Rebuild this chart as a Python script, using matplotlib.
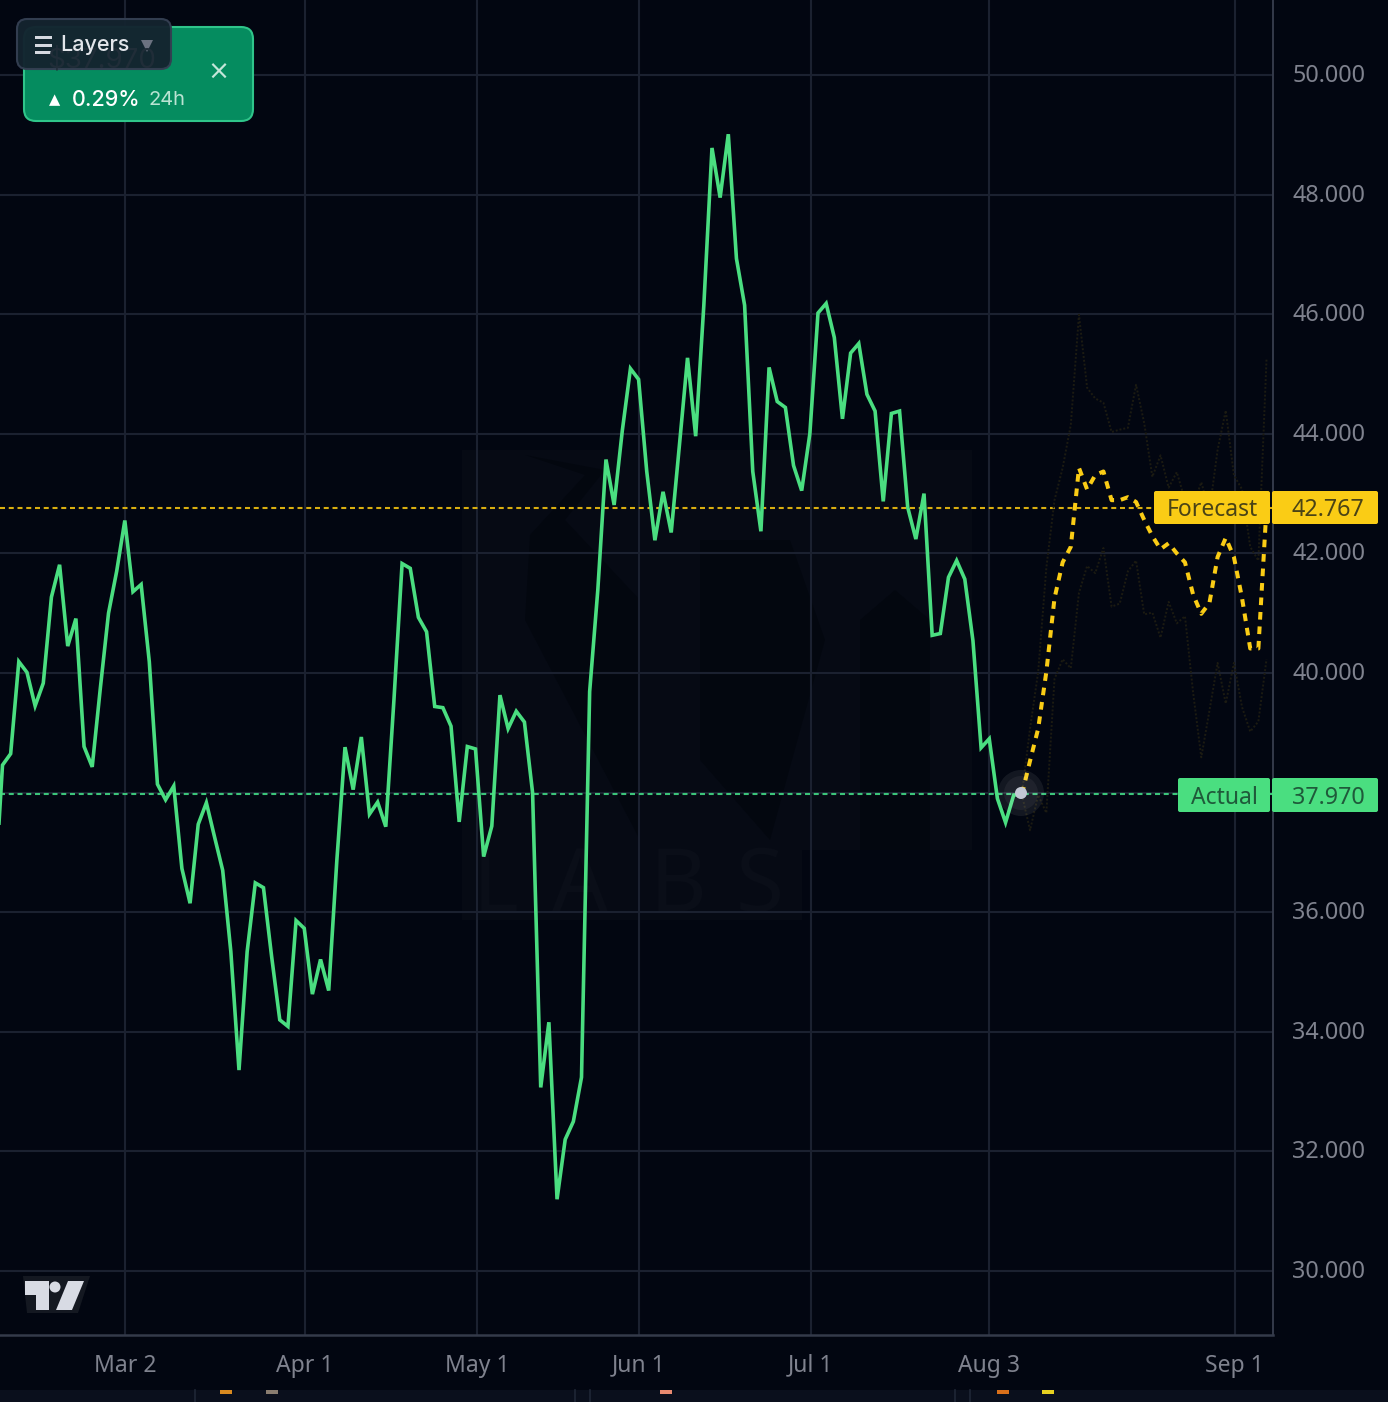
import matplotlib
matplotlib.use("Agg")
import matplotlib.pyplot as plt
from matplotlib.patches import FancyBboxPatch, Rectangle, Circle, Polygon
from matplotlib.transforms import ScaledTranslation

plt.rcParams['font.family'] = ['Noto Sans', 'DejaVu Sans']

# ---------- data ----------
actual_values = [36.2, 38.46, 38.65, 40.19, 40.01, 39.45, 39.83, 41.27, 41.81, 40.45, 40.91,
                 38.77, 38.43, 39.75, 41.0, 41.7, 42.55, 41.36, 41.48, 40.19, 38.14, 37.88,
                 38.11, 36.73, 36.15, 37.47, 37.83, 37.26, 36.70, 35.34, 33.36, 35.34, 36.49,
                 36.41, 35.26, 34.20, 34.09, 35.86, 35.73, 34.63, 35.21, 34.69, 36.87, 38.76,
                 38.05, 38.93, 37.64, 37.84, 37.43, 39.55, 41.83, 41.75, 40.93, 40.69, 39.44,
                 39.42, 39.11, 37.51, 38.77, 38.73, 36.93, 37.44, 39.63, 39.07, 39.36, 39.18,
                 38.0, 33.07, 34.16, 31.2, 32.2, 32.5, 33.24, 39.69, 41.39, 43.57, 42.81,
                 44.05, 45.09, 44.91, 43.37, 42.22, 43.03, 42.35, 43.80, 45.27, 43.96, 46.15,
                 48.78, 47.95, 49.01, 46.93, 46.15, 43.37, 42.37, 45.11, 44.54, 44.44, 43.47,
                 43.05, 44.0, 46.02, 46.18, 45.61, 44.25, 45.35, 45.51, 44.66, 44.38, 42.87,
                 44.34, 44.38, 42.77, 42.24, 43.0, 40.63, 40.66, 41.6, 41.88, 41.57, 40.54,
                 38.75, 38.90, 37.9, 37.5, 37.96, 37.97]
forecast_values = [37.97, 38.53, 39.07, 40.02, 41.25, 41.85, 42.11, 43.43, 43.07, 43.31, 43.37,
                   42.89, 42.89, 42.94, 42.86, 42.56, 42.29, 42.07, 42.17, 42.0, 41.85, 41.31,
                   40.99, 41.17, 41.94, 42.26, 41.94, 41.25, 40.41, 40.41, 42.767]
upper_values = [37.97, 39.07, 40.02, 41.76, 42.89, 43.43, 44.15, 45.99, 44.77, 44.59, 44.52,
                44.03, 44.07, 44.10, 44.82, 44.18, 43.28, 43.64, 43.10, 43.36, 42.89, 42.80,
                43.19, 42.71, 43.73, 44.39, 43.31, 43.07, 42.11, 41.88, 45.25]
lower_values = [37.97, 37.37, 37.96, 37.66, 39.9, 40.23, 40.08, 41.34, 41.79, 41.67, 42.09,
                41.11, 41.16, 41.7, 41.88, 40.98, 41.01, 40.59, 41.19, 40.83, 40.95, 39.67,
                38.59, 39.37, 40.17, 39.49, 40.17, 39.43, 39.02, 39.19, 40.23]
actual_last = 37.970
forecast_last = 42.767
price_ticks = [30, 32, 34, 36, 38, 40, 42, 44, 46, 48, 50]
price_labels = ['30.000', '32.000', '34.000', '36.000', '', '40.000', '42.000', '44.000',
                '46.000', '48.000', '50.000']
date_ticks = [15.02, 37.09, 58.18, 78.05, 99.14, 120.97, 151.1]
date_labels = ['Mar 2', 'Apr 1', 'May 1', 'Jun 1', 'Jul 1', 'Aug 3', 'Sep 1']

# ---------- style ----------
BG = '#020611'
GRID = '#1b2130'
SPINE = '#343a4a'
TXT = '#7f828e'
GREEN = '#4ade80'
GOLD = '#facc15'
W, H = 1388, 1402

fig = plt.figure(figsize=(W / 100, H / 100), dpi=100, facecolor=BG)
ax = fig.add_axes([0, (H - 1335) / H, 1273 / W, 1335 / H], facecolor='none', zorder=2)
bg = fig.add_axes([0, 0, 1, 1], facecolor='none', zorder=1)
top = fig.add_axes([0, 0, 1, 1], facecolor='none', zorder=3)
for a in (bg, top):
    a.set_xlim(0, W)
    a.set_ylim(H, 0)
    a.axis('off')

# ---------- watermark (very faint) ----------
WM = '#060a14'
WM2 = '#03070f'
bg.add_patch(Rectangle((462, 450), 510, 400, fc=WM, ec='none'))
bg.add_patch(Rectangle((462, 850), 340, 70, fc=WM, ec='none'))
for pts in ([[525, 455], [585, 475], [530, 535], [525, 620], [640, 840], [640, 600], [565, 520], [605, 470]],
            [[700, 540], [700, 760], [770, 840], [825, 640], [790, 540]],
            [[860, 620], [860, 850], [930, 850], [930, 620], [895, 590]]):
    bg.add_patch(Polygon(pts, fc=WM2, ec='none'))
for letter, lx in (('L', 495), ('A', 580), ('B', 678), ('S', 760)):
    bg.text(lx, 888, letter, color='#0a0e18', fontsize=63, ha='center', va='center')

# ---------- main chart ----------
xa = [i - 1 for i in range(len(actual_values))]
x0 = xa[-1]
xf = [x0 + i for i in range(len(forecast_values))]

ax.set_xlim(-2.5 / 8.155, (1273 - 2.5) / 8.155)
ax.set_ylim(50 - 1260 / 59.8, 50 + 75 / 59.8)
ax.set_yticks(price_ticks)
ax.set_yticklabels(price_labels)
ax.set_xticks(date_ticks)
ax.set_xticklabels(date_labels)
ax.yaxis.tick_right()
ax.tick_params(axis='y', length=0, pad=14, labelsize=16.8, labelcolor=TXT)
ax.tick_params(axis='x', length=0, pad=13.5, labelsize=16.5, labelcolor=TXT)
up = ScaledTranslation(0, 2 / 100, fig.dpi_scale_trans)
for lab in ax.get_yticklabels():
    lab.set_transform(lab.get_transform() + up)
for lab in ax.get_xticklabels():
    lab.set_fontweight('medium')
ax.grid(True, color=GRID, lw=1.5)
ax.set_axisbelow(True)
for s in ('left', 'top'):
    ax.spines[s].set_visible(False)
ax.spines['right'].set_color(SPINE)
ax.spines['right'].set_linewidth(1.4)
ax.spines['bottom'].set_color(SPINE)
ax.spines['bottom'].set_linewidth(1.8)

ax.axhline(forecast_last, color='#d9ae10', lw=1.5, ls=(0, (2.4, 1.8)), zorder=3)
ax.axhline(actual_last, color='#3cc47a', lw=1.5, ls=(0, (2.4, 1.8)), zorder=3)
ax.plot(xf, upper_values, color='#1c1b12', lw=1.4, ls=(0, (1, 1)), zorder=3)
ax.plot(xf, lower_values, color='#1c1b12', lw=1.4, ls=(0, (1, 1)), zorder=3)
ax.plot(xa, actual_values, color=GREEN, lw=2.6, solid_joinstyle='miter', zorder=4)
ax.plot(xf, forecast_values, color=GOLD, lw=2.9, ls=(0, (1.9, 1.7)), zorder=5)

# ---------- hover marker ----------
top.add_patch(Circle((1021, 793), 23, fc='#ffffff', alpha=0.07, ec='none'))
top.add_patch(Circle((1021, 793), 17, fc='#ffffff', alpha=0.05, ec='none'))
top.add_patch(Circle((1021, 793), 6, fc='#c4c8d4', ec='none'))

# ---------- price labels ----------
def tag(x0_, x1_, y0_, y1_, fc):
    top.add_patch(FancyBboxPatch((x0_ + 2, y0_ + 2), x1_ - x0_ - 4, y1_ - y0_ - 4,
                                 boxstyle='round,pad=2,rounding_size=2', fc=fc, ec='none'))

tag(1154, 1270, 491, 524, GOLD)
tag(1272, 1378, 491, 524, GOLD)
top.text(1212, 510, 'Forecast', color='#4a4316', fontsize=16.5, ha='center', va='center')
top.text(1328, 510, f'{forecast_last:.3f}', color='#4a4316', fontsize=16.8, ha='center', va='center')
tag(1178, 1270, 778, 812, GREEN)
tag(1272, 1378, 778, 812, GREEN)
top.text(1224, 798, 'Actual', color='#1f5a3a', fontsize=16.5, ha='center', va='center')
top.text(1328, 798, f'{actual_last:.3f}', color='#1f5a3a', fontsize=16.8, ha='center', va='center')

# ---------- card ----------
top.add_patch(FancyBboxPatch((36, 39), 205, 70, boxstyle='round,pad=12,rounding_size=12',
                             fc='#058c5f', ec='#2fc58a', lw=1.5))
top.text(49, 100, '▲', color='white', fontsize=10.5, va='center', family=['DejaVu Sans'])
top.text(72, 100, '0.29%', color='white', fontsize=15.5, va='center', fontweight='medium',
         family=['Inter', 'DejaVu Sans'])
top.text(149, 100, '24h', color='#b9e3d2', fontsize=14.5, va='center', family=['Inter', 'DejaVu Sans'])
top.text(218, 73, '×', color='#c4e6d9', fontsize=19, ha='center', va='center', family=['DejaVu Sans'])

# ---------- layers button ----------
top.add_patch(FancyBboxPatch((27, 29), 134, 30, boxstyle='round,pad=10,rounding_size=10',
                             fc='#14242f', ec='#343f52', lw=1.5, alpha=0.97))
top.text(47, 60, '$37.970', color='#202d38', fontsize=20, va='center', family=['Inter', 'DejaVu Sans'])
for y_ in (37, 45, 52):
    top.add_patch(Rectangle((35, y_ - 1.5), 17, 3, fc='#d5d9e0', ec='none'))
top.text(60, 45, 'Layers', color='#e2e5ea', fontsize=15.5, va='center', fontweight='medium',
         family=['Inter', 'DejaVu Sans'])
top.add_patch(Polygon([[141, 40], [153, 40], [147, 52]], fc='#6b7280', ec='none'))

# ---------- TradingView logo ----------
top.add_patch(Polygon([[23, 1276], [90, 1276], [78, 1313], [27, 1313]], fc='#141821', ec='none'))
LOGO = '#d8dbe4'
top.add_patch(Polygon([[25, 1281], [49, 1281], [49, 1310], [36, 1310], [36, 1295], [25, 1295]], fc=LOGO, ec='none'))
top.add_patch(Circle((55, 1287), 5.5, fc=LOGO, ec='none'))
top.add_patch(Polygon([[68, 1281], [84, 1281], [72, 1310], [56, 1310]], fc=LOGO, ec='none'))

# ---------- bottom strip ----------
top.add_patch(Rectangle((0, 1390), W, 12, fc='#0a0f1c', ec='none'))
for cx in (195, 575, 590, 955, 970):
    top.plot([cx, cx], [1390, 1402], color='#1f2636', lw=1.2)
for cx, col in ((226, '#d98a20'), (272, '#8a7d70'), (666, '#e88a70'), (1003, '#d9701a'), (1048, '#e6d020')):
    top.add_patch(Rectangle((cx - 6, 1390), 12, 4, fc=col, ec='none'))

fig.savefig('out.png', dpi=100, facecolor=BG)
